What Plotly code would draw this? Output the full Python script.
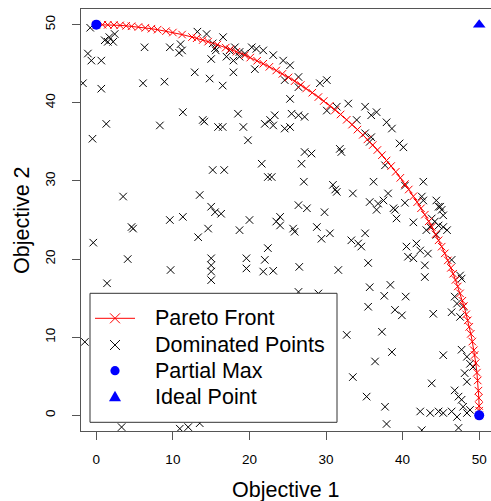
import plotly.graph_objects as go

# ---------------- data ----------------
pareto_x = [0, 0.8, 1.5, 2.3, 3.1, 3.9, 4.6, 5.5, 6.4, 7.2, 8.0, 9.1, 10.0, 11.2, 12.5, 13.1,
            13.9, 14.6, 15.8, 16.9, 17.5, 18.3, 19.4, 20.1, 21.0, 21.8, 22.6, 23.5, 24.3, 25.1,
            25.9, 26.7, 27.4, 28.2, 29.0, 29.7, 30.5, 31.2, 31.9, 32.7, 33.4, 34.1, 34.8, 35.4,
            36.1, 36.7, 37.3, 37.9, 38.5, 39.1, 39.7, 40.3, 40.8, 41.4, 41.9, 42.4, 42.9, 43.4,
            43.8, 44.3, 44.7, 45.1, 45.5, 45.9, 46.3, 46.6, 46.9, 47.2, 47.5, 47.8, 48.0, 48.3,
            48.5, 48.7, 48.9, 49.1, 49.3, 49.4, 49.55, 49.7, 49.8, 49.9, 49.95, 49.986, 49.996, 50]
pareto_y = [50, 49.994, 49.977, 49.947, 49.904, 49.848, 49.788, 49.697, 49.589, 49.479, 49.356,
            49.165, 48.990, 48.729, 48.412, 48.253, 48.029, 47.821, 47.438, 47.057, 46.838,
            46.531, 46.083, 45.782, 45.376, 44.997, 44.601, 44.133, 43.698, 43.244, 42.769,
            42.274, 41.824, 41.289, 40.731, 40.223, 39.620, 39.071, 38.502, 37.825, 37.208,
            36.568, 35.902, 35.311, 34.595, 33.957, 33.297, 32.613, 31.902, 31.164, 30.396,
            29.596, 28.902, 28.036, 27.283, 26.500, 25.682, 24.828, 24.116, 23.184, 22.403,
            21.587, 20.730, 19.829, 18.876, 18.123, 17.332, 16.497, 15.612, 14.668, 14.0,
            12.927, 12.155, 11.327, 10.430, 9.444, 8.337, 7.723, 6.693, 5.469, 4.468, 3.161,
            2.236, 1.2, 0.6, 0]

dominated_x = [-0.8, 1.1, 1.7, 2.4, 2.2, 1.5, 6.3, 9.6, 11.0, 11.2, 10.8, -1.1, -0.65, 0.65,
               12.85, 14.8, 15.0, 15.5, -1.75, 0.65, 6.1, 8.9, 11.3, 13.9, 14.1, 15.9, 8.3, 1.3,
               -0.5, 3.5, 13.5, 15.0, 15.5, 15.2, 16.7, 18.5, 19.2, 19.8, 16.5, 21.6, 22.4, 22.0,
               22.7, 23.3, 23.1, 9.6, 11.3, 20.0, 16.5, 17.9, 20.7, 15.6, 16.55, 17.0, 17.4, 18.1,
               18.7, 17.9, 18.7, 19.4, 20.3, 20.9, 21.8, 23.1, 24.4, 25.3, 13.2, 14.4, 15.2, 24.6,
               26.4, 26.4, 25.3, 29.2, 30.1, 30.1, 31.4, 32.9, 34.0, 24.6, 25.3, 25.5, 26.4, 27.2,
               27.2, 28.1, 26.8, 31.8, 32.0, 37.7, 27.1, 30.9, 31.2, 31.4, 33.5, 36.2, 38.1, 35.7,
               36.8, 37.5, 36.6, 40.3, 40.3, 39.0, 42.7, 42.5, 42.7, 44.4, 44.9, 26.4, 27.5, 29.8,
               24.0, 22.9, 35.1, 35.9, 36.6, 37.9, 38.6, 39.6, 40.1, 35.1, 35.9, 35.7, 38.8, 39.2,
               41.4, 43.8, 44.2, 44.7, 43.6, 43.1, 44.4, 45.3, 45.8, 44.7, 45.1, 45.3, 35.1, 34.6,
               40.5, 40.7, 41.4, 41.8, 42.3, 43.3, 42.9, 42.9, 35.5, 46.4, 47.5, 47.7, 35.7, 38.4,
               37.6, 40.4, 46.8, 23.5, 24.0, 25.7, 25.9, 28.8, 29.4, 30.5, 33.3, 34.2, 23.1, 26.5,
               31.6, 35.5, 39.0, 39.9, 44.0, 46.4, 47.1, 47.5, 47.9, 32.7, 37.3, 38.6, 36.4, 33.5,
               35.3, 37.7, 37.9, 43.8, 45.3, 47.7, 48.4, 48.8, 49.2, 48.1, 48.4, 46.8, 47.3, 47.7,
               42.3, 43.6, 44.7, 45.3, 46.4, 47.1, 47.9, 48.4, 48.8, 47.3, 42.5, 3.3, 10.9, 12.0,
               13.5, 16.3, 18.7, 22.4, 19.6, 19.6, 22.0, 21.8, 26.4, 29.0, 4.6, 4.8, 14.6, 13.3,
               -0.4, 4.1, 9.7, 15.0, 15.0, 15.0, 15.0, 1.4, -1.5]
dominated_y = [49.6, 48.0, 48.4, 48.8, 47.8, 47.8, 47.1, 47.1, 47.5, 46.7, 46.4, 46.3, 45.4, 45.4,
               43.9, 43.1, 45.6, 47.0, 42.5, 41.8, 42.5, 42.7, 38.8, 37.8, 37.6, 36.9, 37.1, 37.3,
               35.4, 28.0, 28.2, 26.7, 26.0, 31.4, 31.4, 38.6, 36.9, 35.2, 36.9, 32.2, 30.5, 37.3,
               37.8, 38.4, 37.1, 25.0, 25.4, 25.0, 42.2, 43.9, 44.3, 46.7, 48.4, 45.9, 46.7, 47.1,
               46.5, 45.4, 45.9, 46.3, 47.1, 46.9, 46.7, 46.1, 45.4, 44.8, 49.1, 48.8, 47.6, 42.9,
               43.3, 42.0, 40.5, 42.5, 42.9, 39.0, 39.5, 39.9, 37.8, 36.7, 36.9, 38.6, 38.4, 38.2,
               33.7, 33.5, 32.2, 34.1, 33.7, 32.0, 29.9, 29.5, 28.9, 28.6, 28.4, 29.9, 28.4, 27.3,
               27.1, 27.5, 26.3, 29.4, 27.2, 26.3, 29.9, 28.0, 27.5, 27.5, 26.7, 26.9, 26.5, 26.0,
               25.4, 30.5, 39.5, 38.4, 38.8, 37.5, 36.7, 34.8, 34.3, 36.1, 35.6, 35.0, 26.5, 25.2,
               24.7, 25.2, 24.8, 24.3, 24.1, 23.7, 23.1, 24.1, 23.7, 26.7, 26.3, 25.6, 23.3, 21.6,
               21.6, 20.3, 20.1, 22.0, 21.1, 20.7, 19.2, 17.7, 19.5, 19.9, 17.9, 17.5, 16.4, 16.7,
               15.3, 15.2, 15.2, 24.8, 24.3, 23.9, 23.5, 24.1, 22.6, 23.3, 22.4, 22.0, 18.5, 19.0,
               18.6, 13.9, 13.5, 12.8, 13.0, 13.2, 14.3, 12.6, 13.9, 10.3, 10.7, 8.1, 6.9, 4.9,
               2.4, 1.1, -1.1, 4.1, 7.7, 8.4, 7.5, 6.6, 6.2, 5.4, 4.3, 3.2, 2.4, 2.0,
               0.5, 0.3, 0.5, 0.3, 0.5, -0.2, 1.1, 0.3, 0.7, -1.6, -1.9, -1.5, -1.7, -1.5,
               -1.0, 25.8, 23.7, 21.4, 20.1, 18.8, 19.9, 18.4, 15.8, 15.6, 24.1, 23.9, 23.9, 22.8,
               22.1, 20.0, 18.6, 20.1, 19.2, 18.4, 17.3, 16.9, 9.4]

partial_max_x = [0, 50]
partial_max_y = [50, 0]
ideal_x = [50]
ideal_y = [50]

tick_values = [0, 10, 20, 30, 40, 50]
legend_labels = ["Pareto Front", "Dominated Points", "Partial Max", "Ideal Point"]

FONT = "Arial, Liberation Sans, sans-serif"

fig = go.Figure()
fig.add_trace(go.Scatter(
    x=dominated_x, y=dominated_y, mode="markers", name=legend_labels[1],
    marker=dict(symbol="x-thin-open", size=7.5, color="black", line=dict(width=1, color="#222")),
    showlegend=False))
fig.add_trace(go.Scatter(
    x=pareto_x, y=pareto_y, mode="lines+markers", name=legend_labels[0],
    line=dict(color="#FF0000", width=1),
    marker=dict(symbol="x-thin-open", size=7.5, color="#FF0000", line=dict(width=1, color="#FF0000")),
    showlegend=False))
fig.add_trace(go.Scatter(
    x=partial_max_x, y=partial_max_y, mode="markers", name=legend_labels[2],
    marker=dict(symbol="circle", size=10, color="#0000FF", line=dict(width=0)),
    showlegend=False))
fig.add_trace(go.Scatter(
    x=ideal_x, y=ideal_y, mode="markers", name=legend_labels[3],
    marker=dict(symbol="triangle-up", size=11, color="#0000FF", line=dict(width=0)),
    showlegend=False))

# ---- manual legend (box, symbols, text) ----
L, T = 81.0, 9.0
W, H = 410.0, 422.0
def px(v):
    return (v - L) / W
def py(v):
    return (T + H - v) / H

rows = [318.3, 345.0, 370.7, 396.7]
sym_x = px(115)
shapes = [
    dict(type="rect", xref="paper", yref="paper", x0=px(90), x1=px(337), y0=py(422.3), y1=py(293.3),
         fillcolor="white", line=dict(color="#333", width=1), layer="above"),
    dict(type="line", xref="paper", yref="paper", x0=px(95), x1=px(135), y0=py(rows[0]), y1=py(rows[0]),
         line=dict(color="#FF0000", width=1), layer="above"),
    dict(type="path", xref="paper", yref="paper", xsizemode="pixel", ysizemode="pixel",
         xanchor=sym_x, yanchor=py(rows[0]), path="M-5,-5L5,5M-5,5L5,-5",
         line=dict(color="#FF0000", width=1), layer="above"),
    dict(type="path", xref="paper", yref="paper", xsizemode="pixel", ysizemode="pixel",
         xanchor=sym_x, yanchor=py(rows[1]), path="M-5,-5L5,5M-5,5L5,-5",
         line=dict(color="#111", width=1), layer="above"),
    dict(type="circle", xref="paper", yref="paper", xsizemode="pixel", ysizemode="pixel",
         xanchor=sym_x, yanchor=py(rows[2]), x0=-4.6, x1=4.6, y0=-4.6, y1=4.6,
         fillcolor="#0000FF", line=dict(width=0), layer="above"),
    dict(type="path", xref="paper", yref="paper", xsizemode="pixel", ysizemode="pixel",
         xanchor=sym_x, yanchor=py(rows[3]), path="M-6,-4.5L6,-4.5L0,6Z",
         fillcolor="#0000FF", line=dict(width=0), layer="above"),
]

annotations = []
for lab, r in zip(legend_labels, rows):
    annotations.append(dict(text=lab, xref="paper", yref="paper", x=px(153), y=py(r),
                            xanchor="left", yanchor="middle", showarrow=False,
                            font=dict(family=FONT, size=21.5, color="black")))
annotations.append(dict(text="Objective 1", xref="paper", yref="paper", x=0.5, y=py(490),
                        xanchor="center", yanchor="middle", showarrow=False,
                        font=dict(family=FONT, size=21.5, color="black")))
annotations.append(dict(text="Objective 2", xref="paper", yref="paper", x=px(22), y=0.5,
                        xanchor="center", yanchor="middle", showarrow=False, textangle=-90,
                        font=dict(family=FONT, size=21.5, color="black")))

axis_common = dict(showgrid=False, zeroline=False, showline=True, linecolor="#555", linewidth=1,
                   ticks="outside", ticklen=8, tickwidth=1, tickcolor="#555",
                   tickvals=tick_values, tickfont=dict(family=FONT, size=13.5, color="black"))

fig.update_layout(
    width=491, height=501,
    margin=dict(l=81, r=0, t=9, b=70),
    paper_bgcolor="white", plot_bgcolor="white",
    showlegend=False,
    xaxis=dict(range=[-2, 51.54], mirror=True, ticklabelstandoff=8, **axis_common),
    yaxis=dict(range=[-2, 52], mirror=False, tickangle=-90, ticklabelstandoff=12, **axis_common),
    shapes=shapes, annotations=annotations,
)

fig.write_html("out.html")
